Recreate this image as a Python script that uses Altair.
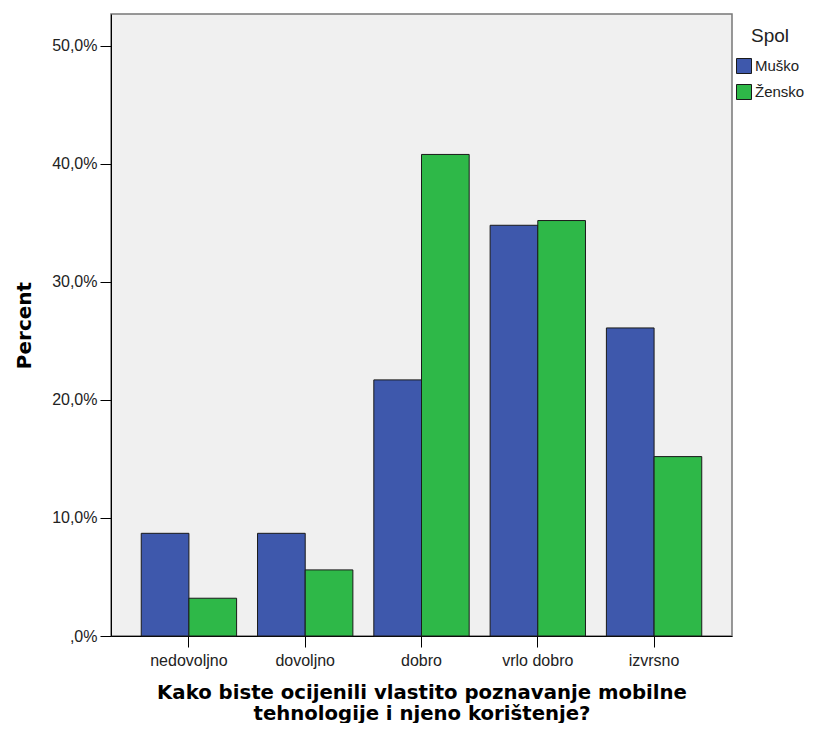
import altair as alt
import pandas as pd

categories = ["nedovoljno", "dovoljno", "dobro", "vrlo dobro", "izvrsno"]
musko = [8.7, 8.7, 21.7, 34.8, 26.1]
zensko = [3.2, 5.6, 40.8, 35.2, 15.2]
groups = ["Muško", "Žensko"]

rows = []
for c, m, z in zip(categories, musko, zensko):
    rows.append({"cat": c, "spol": groups[0], "pct": m})
    rows.append({"cat": c, "spol": groups[1], "pct": z})
df = pd.DataFrame(rows)

label_expr = "datum.value == 0 ? ',0%' : replace(format(datum.value, '.1f'), '.', ',') + '%'"

chart = alt.Chart(df).mark_bar(stroke="#1a1a1a", strokeWidth=1).encode(
    x=alt.X("cat:N", sort=categories,
            scale=alt.Scale(paddingInner=0.18, paddingOuter=0.26),
            axis=alt.Axis(title=["Kako biste ocijenili vlastito poznavanje mobilne",
                                 "tehnologije i njeno korištenje?"],
                          labelAngle=0, labelFont="Liberation Sans", labelFontSize=16,
                          labelColor="#222", labelPadding=5,
                          titleFont="DejaVu Sans", titleFontSize=19.7, titleFontWeight="bold",
                          titleColor="#000", titlePadding=14, titleLineHeight=21,
                          domainColor="#000", tickColor="#000", tickSize=11, grid=False)),
    xOffset=alt.XOffset("spol:N", sort=groups),
    y=alt.Y("pct:Q", scale=alt.Scale(domain=[0, 52.7], nice=False),
            axis=alt.Axis(title="Percent", values=[0, 10, 20, 30, 40, 50],
                          labelExpr=label_expr, labelFont="Liberation Sans",
                          labelFontSize=16, labelColor="#222", labelPadding=3,
                          titleFont="DejaVu Sans", titleFontSize=20, titleFontWeight="bold",
                          titleColor="#000", titlePadding=17,
                          domainColor="#000", tickColor="#000", tickSize=11, grid=False)),
    color=alt.Color("spol:N", sort=groups,
                    scale=alt.Scale(domain=groups, range=["#3E58AC", "#2EB848"]),
                    legend=alt.Legend(title="Spol", orient="none", legendX=625, legendY=13,
                                      padding=0, titleAnchor="middle",
                                      titleFont="Liberation Sans", titleFontSize=19,
                                      titleFontWeight="normal", titleColor="#222",
                                      titlePadding=12,
                                      labelFont="Liberation Sans", labelFontSize=15,
                                      labelColor="#222", symbolType="square",
                                      symbolSize=225, symbolStrokeColor="#1a1a1a",
                                      symbolStrokeWidth=1, rowPadding=6, labelOffset=3)),
).properties(
    width=621, height=622,
    background="white",
    autosize=alt.AutoSizeParams(type="none"),
    padding={"left": 103, "top": 6, "right": 73, "bottom": 87},
).configure_view(
    fill="#F0F0F0", stroke="#777", strokeWidth=1.5
)

chart.save("out.html", embed_options={"renderer": "svg", "actions": False})
